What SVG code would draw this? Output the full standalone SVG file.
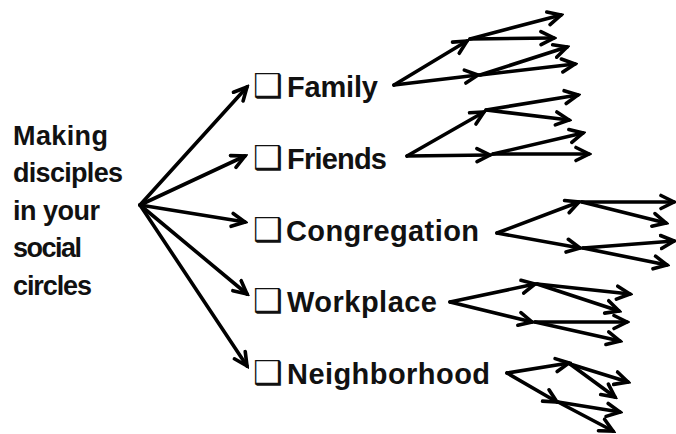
<svg xmlns="http://www.w3.org/2000/svg" width="676" height="434" viewBox="0 0 676 434">
<style>
.bg{fill:#ffffff}
.t{font-family:"Liberation Sans",Arial,sans-serif;font-weight:bold;fill:#111111}
.main{font-size:27px}
.lbl{font-size:29px}
.box{font-family:"DejaVu Sans",sans-serif;font-weight:bold;font-size:33px}
.c line{stroke:#000000;stroke-width:3.6;stroke-linecap:round;marker-end:url(#ah)}
</style>
<defs>
<marker id="ah" markerUnits="userSpaceOnUse" markerWidth="18" markerHeight="18" viewBox="0 0 18 18" refX="15" refY="9" orient="auto">
<path d="M2,2.5 L15,9 L2,15.5" fill="none" stroke="#000000" stroke-width="3.6" stroke-linecap="round" stroke-linejoin="miter"/>
</marker>
</defs>
<rect class="bg" x="0" y="0" width="676" height="434"/>
<g id="root">
<text class="t main" x="13" y="145" textLength="95">Making</text>
<text class="t main" x="13" y="182" textLength="110">disciples</text>
<text class="t main" x="13" y="220" textLength="87">in your</text>
<text class="t main" x="13" y="257" textLength="69">social</text>
<text class="t main" x="13" y="295" textLength="79">circles</text>
</g>
<g id="family"><text class="t lbl" x="253" y="97"><tspan class="box">❑</tspan><tspan x="287" textLength="91">Family</tspan></text></g>
<g id="friends"><text class="t lbl" x="253" y="169"><tspan class="box">❑</tspan><tspan x="287" textLength="100">Friends</tspan></text></g>
<g id="congregation"><text class="t lbl" x="253" y="241"><tspan class="box">❑</tspan><tspan x="286" textLength="193">Congregation</tspan></text></g>
<g id="workplace"><text class="t lbl" x="253" y="312"><tspan class="box">❑</tspan><tspan x="287" textLength="150">Workplace</tspan></text></g>
<g id="neighborhood"><text class="t lbl" x="253" y="384"><tspan class="box">❑</tspan><tspan x="287" textLength="203">Neighborhood</tspan></text></g>
<g id="connectors" class="c">
<line x1="140" y1="205" x2="247" y2="87"/>
<line x1="140" y1="205" x2="245" y2="156"/>
<line x1="140" y1="205" x2="245" y2="222"/>
<line x1="140" y1="205" x2="247" y2="294"/>
<line x1="140" y1="205" x2="247" y2="366"/>
<line x1="394" y1="85" x2="467" y2="41"/>
<line x1="394" y1="85" x2="478" y2="75"/>
<line x1="470" y1="39" x2="561" y2="15"/>
<line x1="470" y1="39" x2="554" y2="38"/>
<line x1="480" y1="75" x2="567" y2="47"/>
<line x1="480" y1="75" x2="575" y2="64"/>
<line x1="407" y1="156" x2="484" y2="112"/>
<line x1="407" y1="156" x2="490" y2="155"/>
<line x1="486" y1="110" x2="578" y2="95"/>
<line x1="486" y1="110" x2="569" y2="120"/>
<line x1="493" y1="154" x2="583" y2="133"/>
<line x1="493" y1="154" x2="589" y2="154"/>
<line x1="497" y1="233" x2="579" y2="202"/>
<line x1="497" y1="233" x2="580" y2="248"/>
<line x1="582" y1="202" x2="674" y2="202"/>
<line x1="582" y1="202" x2="666" y2="223"/>
<line x1="583" y1="248" x2="674" y2="241"/>
<line x1="583" y1="248" x2="667" y2="265"/>
<line x1="450" y1="302" x2="535" y2="284"/>
<line x1="450" y1="302" x2="532" y2="322"/>
<line x1="537" y1="284" x2="630" y2="294"/>
<line x1="537" y1="284" x2="619" y2="311"/>
<line x1="535" y1="322" x2="627" y2="322"/>
<line x1="535" y1="322" x2="620" y2="341"/>
<line x1="507" y1="373" x2="569" y2="363"/>
<line x1="507" y1="373" x2="557" y2="402"/>
<line x1="570" y1="364" x2="628" y2="382"/>
<line x1="570" y1="364" x2="615" y2="397"/>
<line x1="558" y1="402" x2="620" y2="412"/>
<line x1="558" y1="402" x2="613" y2="431"/>
</g>
</svg>
